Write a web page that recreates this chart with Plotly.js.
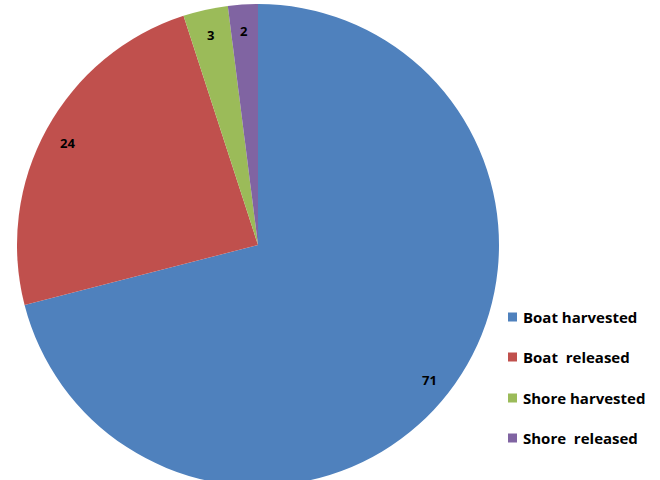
<!DOCTYPE html>
<html>
<head>
<meta charset="utf-8">
<script src="https://cdn.plot.ly/plotly-3.0.1.min.js"></script>
<style>
html,body{margin:0;padding:0;overflow:hidden;background:#fff;}
#chart{width:660px;height:490px;}
</style>
</head>
<body>
<div id="chart"></div>
<script>
// Data
var categories = ["Boat harvested", "Boat  released", "Shore harvested", "Shore  released"];
var values = [71, 24, 3, 2];
var colors = ["#4F81BD", "#C0504D", "#9BBB59", "#8064A2"];

var W = 660, H = 490, MT = 4, MB = 4;
var plotH = H - MT - MB;          // 482
var R = plotH / 2;                // pie radius in px
var cx = 258, cy = MT + R;        // pie centre in px

var trace = {
  type: "pie",
  labels: categories,
  values: values,
  sort: false,
  direction: "clockwise",
  rotation: 0,
  marker: {colors: colors, line: {width: 0}},
  textinfo: "none",
  hoverinfo: "label+value",
  showlegend: false,
  domain: {x: [(cx - R) / W, (cx + R) / W], y: [0, 1]}
};

// value labels at "inside end" (0.9 R) along each slice mid-angle
var total = values.reduce(function(a, b){ return a + b; }, 0);
var annotations = [];
var cum = 0;
for (var i = 0; i < values.length; i++) {
  var mid = (cum + values[i] / 2) / total * 2 * Math.PI;
  cum += values[i];
  var px = cx + 0.9 * R * Math.sin(mid);
  var py = cy - 0.9 * R * Math.cos(mid) + 2;
  annotations.push({
    xref: "paper", yref: "paper",
    x: px / W, y: 1 - (py - MT) / plotH,
    text: "<b>" + values[i] + "</b>",
    showarrow: false,
    font: {family: "Open Sans, Arial, sans-serif", size: 13, color: "#000"},
    xanchor: "center", yanchor: "middle"
  });
}

// legend drawn manually (Excel-like spacing)
var shapes = [];
var legY = [317, 357, 398, 438];
for (var j = 0; j < categories.length; j++) {
  var y0 = legY[j];
  shapes.push({
    type: "rect", xref: "paper", yref: "paper",
    x0: 508 / W, x1: 517 / W,
    y0: 1 - (y0 + 4.5 - MT) / plotH, y1: 1 - (y0 - 4.5 - MT) / plotH,
    fillcolor: colors[j], line: {width: 0}
  });
  annotations.push({
    xref: "paper", yref: "paper",
    x: 521 / W, y: 1 - (y0 - MT) / plotH,
    text: "<b>" + categories[j].replace(/  /g, "&nbsp; ") + "</b>",
    showarrow: false,
    font: {family: "Open Sans, Arial, sans-serif", size: 15, color: "#000"},
    xanchor: "left", yanchor: "middle"
  });
}

var layout = {
  width: W, height: H,
  margin: {l: 0, r: 0, t: MT, b: MB, pad: 0},
  paper_bgcolor: "#fff",
  showlegend: false,
  annotations: annotations,
  shapes: shapes
};

Plotly.newPlot("chart", [trace], layout, {displayModeBar: false, staticPlot: true});
</script>
</body>
</html>
